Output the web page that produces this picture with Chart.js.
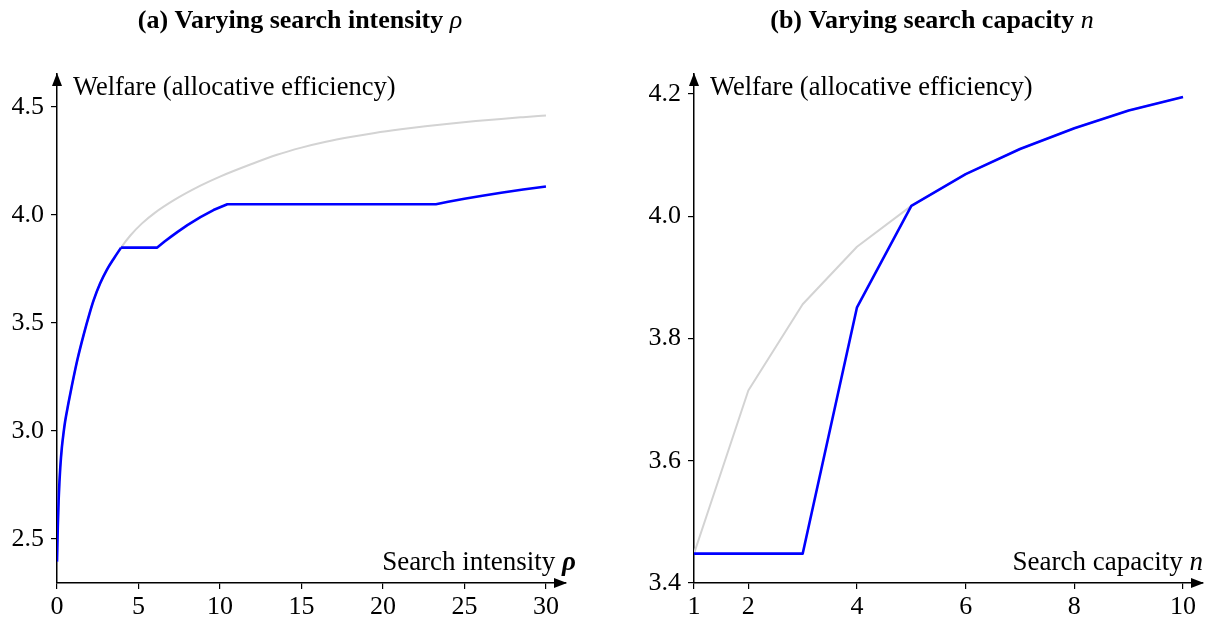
<!DOCTYPE html>
<html>
<head>
<meta charset="utf-8">
<title>Welfare under varying search intensity and capacity</title>
<script src="https://cdn.jsdelivr.net/npm/chart.js@4.4.1/dist/chart.umd.min.js"></script>
<style>
  html, body { margin: 0; padding: 0; background: #fff; }
  #wrap { position: relative; width: 1210px; height: 620px; overflow: hidden; }
  .pane { position: absolute; top: 0; width: 605px; height: 620px; }
</style>
</head>
<body>
<div id="wrap">
  <div class="pane" style="left:0"><canvas id="chartA" width="605" height="620"></canvas></div>
  <div class="pane" style="left:605px"><canvas id="chartB" width="605" height="620"></canvas></div>
</div>
<script>
// ---- Panel (a): welfare as search intensity rho grows ----
// upper envelope (grey)
const rhoUpper = [0, 0.05, 0.1, 0.15, 0.2, 0.3, 0.4, 0.5, 0.7, 0.9, 1.25, 1.65, 2.0, 2.25, 2.65, 3.05,
                  3.5, 3.93, 4.5, 5.2, 6.0, 7.2, 8.8, 10.0, 11.9, 13.5, 15.0, 16.5, 18.0, 19.5, 21.1,
                  22.6, 24.2, 25.7, 27.25, 28.6, 30.0];
const welfareUpper = [2.395, 2.56, 2.68, 2.765, 2.83, 2.925, 2.99, 3.045, 3.128, 3.205, 3.33, 3.45, 3.545,
                      3.606, 3.684, 3.745, 3.80, 3.849, 3.905, 3.96, 4.01, 4.07, 4.136, 4.178, 4.235,
                      4.279, 4.312, 4.339, 4.361, 4.38, 4.397, 4.411, 4.424, 4.435, 4.445, 4.453, 4.461];
// realised welfare (blue): rising branch, then plateaus and partial recoveries
const rhoRising = [0, 0.05, 0.1, 0.15, 0.2, 0.3, 0.4, 0.5, 0.7, 0.9, 1.25, 1.65, 2.0, 2.25, 2.65, 3.05,
                   3.5, 3.93];
const welfareRising = [2.395, 2.56, 2.68, 2.765, 2.83, 2.925, 2.99, 3.045, 3.128, 3.205, 3.33, 3.45, 3.545,
                       3.606, 3.684, 3.745, 3.80, 3.849];
const rhoPlateau = [3.93, 6.15, 6.6, 7.0, 7.4, 8.0, 8.8, 9.6, 10.45, 23.25, 24.0, 25.0, 26.1, 27.25,
                    28.6, 30.0];
const welfarePlateau = [3.849, 3.849, 3.877, 3.90, 3.922, 3.953, 3.99, 4.023, 4.05, 4.05, 4.061, 4.075,
                        4.089, 4.103, 4.118, 4.132];
const rhoTicks = [0, 5, 10, 15, 20, 25, 30];
const welfareTicksA = [2.5, 3.0, 3.5, 4.0, 4.5];

// ---- Panel (b): welfare as search capacity n grows ----
const capacity = [1, 2, 3, 4, 5, 6, 7, 8, 9, 10];
const welfareUpperB = [3.448, 3.715, 3.856, 3.950, 4.017, 4.069, 4.110, 4.144, 4.173, 4.195];
const welfareMarketB = [3.448, 3.448, 3.448, 3.851, 4.017, 4.069, 4.110, 4.144, 4.173, 4.195];
const capacityTicks = [1, 2, 4, 6, 8, 10];
const welfareTicksB = [3.4, 3.6, 3.8, 4.0, 4.2];

const SERIF = '"Liberation Serif", "Times New Roman", serif';
const GREY = '#d3d3d3';
const BLUE = '#0000ff';

function runsWidth(ctx, runs) {
  let w = 0;
  runs.forEach(r => { ctx.font = r.font; w += ctx.measureText(r.text).width; });
  return w;
}
function drawRuns(ctx, runs, x, y, align) {
  const total = runsWidth(ctx, runs);
  let cx = align === 'center' ? x - total / 2 : (align === 'right' ? x - total : x);
  ctx.textAlign = 'left';
  ctx.textBaseline = 'alphabetic';
  runs.forEach(r => {
    ctx.font = r.font;
    ctx.fillText(r.text, cx, y);
    cx += ctx.measureText(r.text).width;
  });
}

// arrow heads on both axes plus the titles and axis captions
const axisDecor = {
  id: 'axisDecor',
  afterDraw(chart, _args, o) {
    const { ctx, chartArea: a } = chart;
    ctx.save();
    ctx.fillStyle = '#000';
    ctx.beginPath();
    ctx.moveTo(a.left, a.top - 1);
    ctx.lineTo(a.left - 5, a.top + 12);
    ctx.lineTo(a.left + 5, a.top + 12);
    ctx.closePath();
    ctx.fill();
    ctx.beginPath();
    ctx.moveTo(a.right + 1, a.bottom);
    ctx.lineTo(a.right - 12, a.bottom - 5);
    ctx.lineTo(a.right - 12, a.bottom + 5);
    ctx.closePath();
    ctx.fill();
    drawRuns(ctx, o.title, o.titleX, o.titleY, 'center');
    drawRuns(ctx, o.yLabel, a.left + 16, o.yLabelY, 'left');
    drawRuns(ctx, o.xLabel, a.right + o.xLabelDx, o.xLabelY, 'right');
    ctx.restore();
  }
};

function axis(min, max, ticks, fmt, fitKey, fitSize, pad) {
  return {
    type: 'linear',
    min: min,
    max: max,
    afterBuildTicks: s => { s.ticks = ticks.map(v => ({ value: v })); },
    afterFit: s => { s[fitKey] = fitSize; },
    grid: { display: true, drawOnChartArea: false, drawTicks: true, tickLength: 6, color: '#000', lineWidth: 1.2 },
    border: { display: true, color: '#000', width: 1.5 },
    ticks: {
      font: { family: SERIF, size: 26 },
      color: '#000',
      padding: pad,
      autoSkip: false,
      maxRotation: 0,
      callback: fmt
    }
  };
}

function build(id, sets, xs, ys, pads, decor) {
  return new Chart(document.getElementById(id), {
    type: 'scatter',
    data: { datasets: sets },
    options: {
      responsive: false,
      animation: false,
      devicePixelRatio: 1,
      layout: { padding: pads },
      plugins: { legend: { display: false }, tooltip: { enabled: false }, axisDecor: decor },
      scales: { x: xs, y: ys },
      elements: { point: { radius: 0 } }
    },
    plugins: [axisDecor]
  });
}

const lineSet = (xsArr, ysArr, color, width, order, smooth) => ({
  data: xsArr.map((x, i) => ({ x: x, y: ysArr[i] })),
  showLine: true,
  borderColor: color,
  borderWidth: width,
  borderJoinStyle: 'round',
  pointRadius: 0,
  tension: 0,
  cubicInterpolationMode: smooth ? 'monotone' : 'default',
  order: order
});

build('chartA',
  [
    lineSet(rhoUpper, welfareUpper, GREY, 2, 3, true),
    lineSet(rhoRising, welfareRising, BLUE, 2.6, 1, true),
    lineSet(rhoPlateau, welfarePlateau, BLUE, 2.6, 2, false)
  ],
  axis(0, 31.23, rhoTicks, v => String(v), 'height', 37, 3),
  axis(2.2963, 4.6528, welfareTicksA, v => v.toFixed(1), 'width', 57, 7),
  { left: 0, right: 39, top: 74, bottom: 0 },
  {
    title: [
      { text: '(a) Varying search intensity ', font: 'bold 26px ' + SERIF },
      { text: 'ρ', font: 'italic 26px ' + SERIF }
    ],
    titleX: 300, titleY: 28,
    yLabel: [{ text: 'Welfare (allocative efficiency)', font: '26.5px ' + SERIF }],
    yLabelY: 95,
    xLabel: [
      { text: 'Search intensity ', font: '27px ' + SERIF },
      { text: 'ρ', font: 'italic bold 27px ' + SERIF }
    ],
    xLabelDx: 10, xLabelY: 570
  }
);

build('chartB',
  [
    lineSet(capacity, welfareUpperB, GREY, 2, 2, false),
    lineSet(capacity, welfareMarketB, BLUE, 2.6, 1, false)
  ],
  axis(1, 10.368, capacityTicks, v => String(v), 'height', 37, 3),
  axis(3.4, 4.2327, welfareTicksB, v => v.toFixed(1), 'width', 89, 7),
  { left: 0, right: 7, top: 74, bottom: 0 },
  {
    title: [
      { text: '(b) Varying search capacity ', font: 'bold 26px ' + SERIF },
      { text: 'n', font: 'italic 26px ' + SERIF }
    ],
    titleX: 327, titleY: 28,
    yLabel: [{ text: 'Welfare (allocative efficiency)', font: '26.5px ' + SERIF }],
    yLabelY: 95,
    xLabel: [
      { text: 'Search capacity ', font: '27px ' + SERIF },
      { text: 'n', font: 'italic 27px ' + SERIF }
    ],
    xLabelDx: 0, xLabelY: 570
  }
);
</script>
</body>
</html>
